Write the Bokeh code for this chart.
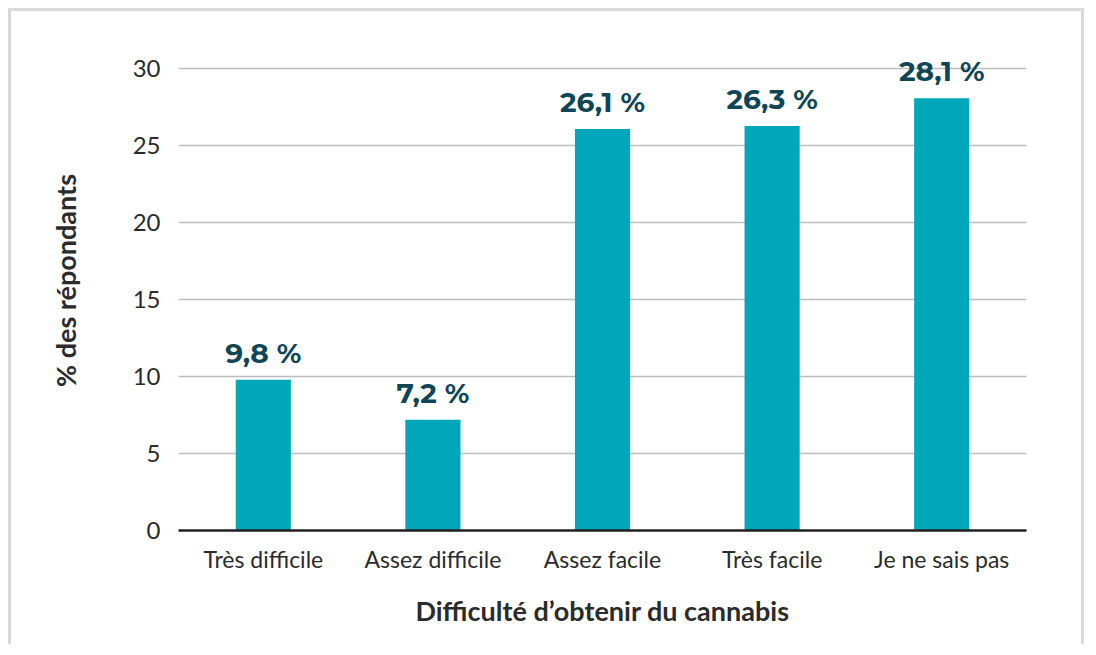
from bokeh.plotting import figure
from bokeh.models import ColumnDataSource, Range1d, FixedTicker
from bokeh.core.properties import value
from bokeh.embed import file_html
from bokeh.resources import INLINE

categories = ["Très difficile", "Assez difficile", "Assez facile", "Très facile", "Je ne sais pas"]
values = [9.8, 7.2, 26.1, 26.3, 28.1]
labels = ["9,8 %", "7,2 %", "26,1 %", "26,3 %", "28,1 %"]
y_ticks = [0, 5, 10, 15, 20, 25, 30]

src = ColumnDataSource(dict(cat=categories, val=values, lab=labels))

p = figure(x_range=categories, y_range=Range1d(0, 32.5), width=1076, height=636,
           output_backend="svg", toolbar_location=None,
           min_border_left=167, min_border_right=61, min_border_top=19, min_border_bottom=117)
p.styles = {"border-top": "3px solid #d9d9d9", "border-left": "3px solid #d9d9d9",
            "border-right": "3px solid #d9d9d9", "margin-left": "8px", "margin-top": "8px"}
p.outline_line_color = None
p.background_fill_color = "white"

p.vbar(x="cat", top="val", width=0.325, source=src, color="#00a7ba", line_color=None)
p.text(x="cat", y="val", text="lab", source=src, text_align="center", text_baseline="bottom",
       y_offset=-10, text_font=value("Montserrat, Open Sans"), text_font_style="bold",
       text_font_size="28px", text_color="#0e4656")

p.xgrid.grid_line_color = None
p.ygrid.grid_line_color = "#bdbdbd"
p.ygrid.grid_line_width = 1.3
p.yaxis.ticker = FixedTicker(ticks=y_ticks)
p.yaxis.axis_line_color = None
p.yaxis.major_tick_line_color = None
p.yaxis.minor_tick_line_color = None
p.yaxis.major_label_text_font = "Lato"
p.yaxis.major_label_text_font_size = "24px"
p.yaxis.major_label_text_color = "#2b2b2b"
p.yaxis.major_label_standoff = 12
p.yaxis.axis_label = "% des répondants"
p.yaxis.axis_label_text_font = "Lato"
p.yaxis.axis_label_text_font_style = "bold"
p.yaxis.axis_label_text_font_size = "27px"
p.yaxis.axis_label_text_color = "#2b2b2b"
p.yaxis.axis_label_standoff = 48

p.xaxis.axis_line_color = "#231f20"
p.xaxis.axis_line_width = 2.5
p.xaxis.major_tick_line_color = None
p.xaxis.minor_tick_line_color = None
p.xaxis.major_label_text_font = "Lato"
p.xaxis.major_label_text_font_size = "23px"
p.xaxis.major_label_text_color = "#2b2b2b"
p.xaxis.major_label_standoff = 8
p.xaxis.axis_label = "Difficulté d’obtenir du cannabis"
p.xaxis.axis_label_text_font = "Lato"
p.xaxis.axis_label_text_font_style = "bold"
p.xaxis.axis_label_text_font_size = "27px"
p.xaxis.axis_label_text_color = "#2b2b2b"
p.xaxis.axis_label_standoff = 18

open("out.html", "w").write(file_html(p, INLINE))
